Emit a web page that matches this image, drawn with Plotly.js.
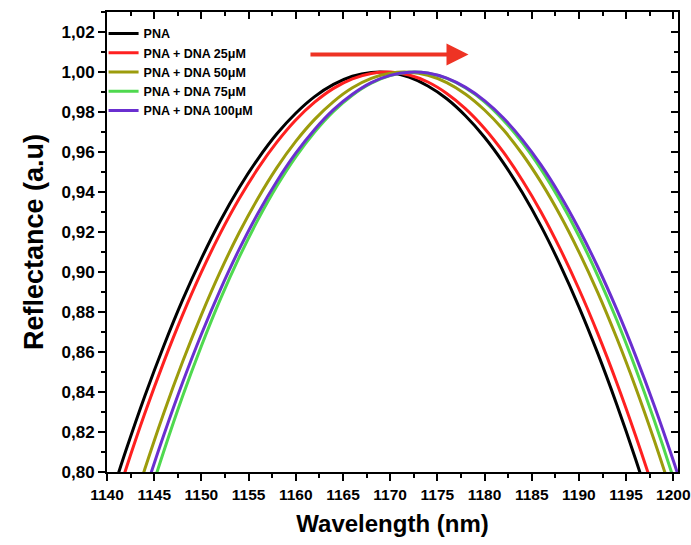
<!DOCTYPE html>
<html>
<head>
<meta charset="utf-8">
<script src="https://cdn.plot.ly/plotly-3.0.1.min.js"></script>
<style>html,body{margin:0;padding:0;background:#fff;}#chart{width:691px;height:545px;}</style>
</head>
<body>
<div id="chart"></div>
<script>
const wavelength = [1140,1142,1144,1146,1148,1150,1152,1154,1156,1158,1160,1162,1164,1166,1168,1170,1172,1174,1176,1178,1180,1182,1184,1186,1188,1190,1192,1194,1196,1198,1200,1202];
const pna = [0.7815,0.8107,0.8379,0.8629,0.8859,0.9067,0.9255,0.9421,0.9566,0.9691,0.9794,0.9877,0.9938,0.9979,0.9998,0.9997,0.9974,0.9930,0.9866,0.9780,0.9674,0.9546,0.9397,0.9228,0.9037,0.8826,0.8593,0.8339,0.8065,0.7769,0.7452,0.7115];
const dna25 = [0.7716,0.8014,0.8292,0.8548,0.8784,0.8999,0.9193,0.9366,0.9518,0.9649,0.9760,0.9849,0.9918,0.9966,0.9993,1.0000,0.9985,0.9950,0.9893,0.9816,0.9718,0.9599,0.9459,0.9299,0.9117,0.8915,0.8692,0.8448,0.8183,0.7898,0.7591,0.7264];
const dna50 = [0.7395,0.7715,0.8014,0.8293,0.8550,0.8786,0.9002,0.9196,0.9369,0.9522,0.9653,0.9763,0.9852,0.9921,0.9968,0.9994,0.9999,0.9984,0.9947,0.9889,0.9810,0.9711,0.9590,0.9448,0.9285,0.9101,0.8897,0.8671,0.8424,0.8156,0.7867,0.7558];
const dna75 = [0.7146,0.7486,0.7805,0.8101,0.8377,0.8630,0.8863,0.9073,0.9262,0.9430,0.9576,0.9700,0.9803,0.9884,0.9944,0.9982,0.9999,0.9994,0.9968,0.9920,0.9851,0.9759,0.9647,0.9513,0.9357,0.9180,0.8981,0.8761,0.8519,0.8256,0.7971,0.7664];
const dna100 = [0.7268,0.7593,0.7898,0.8182,0.8446,0.8689,0.8911,0.9113,0.9294,0.9454,0.9594,0.9713,0.9812,0.9889,0.9947,0.9983,0.9999,0.9995,0.9969,0.9923,0.9857,0.9770,0.9662,0.9534,0.9385,0.9215,0.9025,0.8814,0.8582,0.8330,0.8057,0.7764];
const seriesNames = ['PNA','PNA + DNA 25μM','PNA + DNA 50μM','PNA + DNA 75μM','PNA + DNA 100μM'];
const seriesColors = ['#000000','#ff2020','#9c9c0c','#4fd94f','#6a2fd0'];
const seriesValues = [pna, dna25, dna50, dna75, dna100];

const FONT = 'Arial, "Liberation Sans", sans-serif';
const traces = seriesValues.map((v, i) => ({
  x: wavelength, y: v, type: 'scatter', mode: 'lines',
  name: seriesNames[i],
  line: {color: seriesColors[i], width: 3, shape: 'spline', smoothing: 1}
}));
traces.push({x:[1150], y:[0.9], xaxis:'x2', yaxis:'y2', mode:'markers', marker:{opacity:0}, showlegend:false, hoverinfo:'skip'});

const xr = [1140, 1200.5], yr = [0.80, 1.03];
const layout = {
  width: 691, height: 545,
  margin: {l: 107, r: 13, t: 12, b: 73},
  paper_bgcolor: '#fff', plot_bgcolor: '#fff',
  separators: ',.',
  font: {family: FONT, color: '#000'},
  showlegend: true,
  legend: {x: -0.006, y: 0.985, xanchor: 'left', yanchor: 'top', bgcolor: 'rgba(0,0,0,0)',
           font: {family: FONT, size: 12.5, color: '#000', weight: 'bold'}, itemwidth: 30, tracegroupgap: 0},
  xaxis: {range: xr, showgrid: false, zeroline: false, showline: true, linecolor: '#000', linewidth: 2, mirror: true,
          ticks: 'outside', ticklen: 7, tickwidth: 2, tickcolor: '#000', dtick: 5, tick0: 1140,
          ticklabeloverflow: 'allow', automargin: false,
          minor: {ticks: 'outside', ticklen: 4, tickwidth: 2, tickcolor: '#000', dtick: 2.5},
          tickfont: {family: FONT, size: 15.5, weight: 'bold'},
          title: {text: 'Wavelength (nm)', font: {family: FONT, size: 24, weight: 'bold'}, standoff: 14}},
  yaxis: {range: yr, showgrid: false, zeroline: false, showline: true, linecolor: '#000', linewidth: 2, mirror: true,
          ticks: 'outside', ticklen: 7, tickwidth: 2, tickcolor: '#000', dtick: 0.02, tick0: 0.8, tickformat: '.2f',
          automargin: true,
          minor: {ticks: 'outside', ticklen: 4, tickwidth: 2, tickcolor: '#000', dtick: 0.01},
          tickfont: {family: FONT, size: 17, weight: 'bold'},
          title: {text: 'Reflectance (a.u)', font: {family: FONT, size: 27, weight: 'bold'}, standoff: 10}},
  xaxis2: {range: xr, overlaying: 'x', side: 'top', showgrid: false, zeroline: false, showline: false,
           ticks: 'inside', ticklen: 7, tickwidth: 2, tickcolor: '#000', dtick: 5, tick0: 1140, showticklabels: false,
           minor: {ticks: 'inside', ticklen: 4, tickwidth: 2, tickcolor: '#000', dtick: 2.5}},
  yaxis2: {range: yr, overlaying: 'y', side: 'right', showgrid: false, zeroline: false, showline: false,
           ticks: 'inside', ticklen: 7, tickwidth: 2, tickcolor: '#000', dtick: 0.02, tick0: 0.8, showticklabels: false,
           minor: {ticks: 'inside', ticklen: 4, tickwidth: 2, tickcolor: '#000', dtick: 0.01}},
  annotations: [{
    x: 1178.3, y: 1.0088, xref: 'x', yref: 'y', ax: 1161.4, ay: 1.0088, axref: 'x', ayref: 'y',
    text: '', showarrow: true, arrowhead: 2, arrowsize: 1.1, arrowwidth: 4, arrowcolor: '#ee3324'
  }]
};
Plotly.newPlot('chart', traces, layout, {displayModeBar: false, staticPlot: true});
</script>
</body>
</html>
